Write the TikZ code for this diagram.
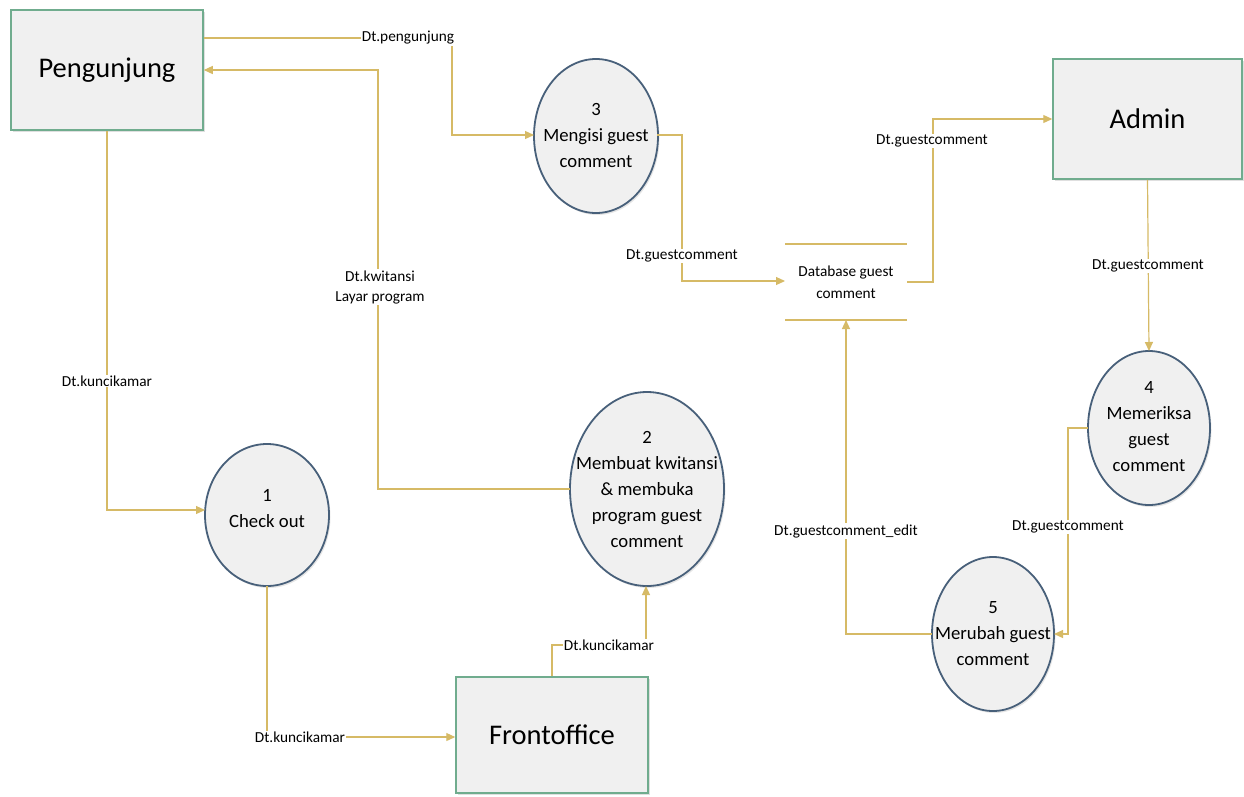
\documentclass[tikz,border=0pt]{standalone}
\usepackage{fontspec}
\setmainfont{Carlito}
\usetikzlibrary{shadows,arrows.meta}
\definecolor{flow}{RGB}{214,186,102}
\definecolor{boxline}{RGB}{112,172,142}
\definecolor{procline}{RGB}{72,96,122}
\definecolor{shapefill}{RGB}{240,240,240}
\tikzset{
  entity/.style={draw=boxline, line width=1.5pt, fill=shapefill, inner sep=0pt,
    drop shadow={opacity=0.25, shadow xshift=1.5pt, shadow yshift=-2pt},
    font=\fontsize{28.5}{32}\selectfont},
  procshape/.style={draw=procline, line width=1.8pt, fill=shapefill,
    drop shadow={opacity=0.2, shadow xshift=1.5pt, shadow yshift=-2pt}},
  ptext/.style={align=center, font=\fontsize{18.7}{26}\selectfont, inner sep=0pt},
  lbl/.style={fill=white, inner sep=1pt, align=center, font=\fontsize{15.3}{20}\selectfont},
  flowline/.style={draw=flow, line width=1.2pt, -{Triangle[length=9pt,width=8pt]}},
}
\begin{document}
\begin{tikzpicture}[x=1pt,y=-1pt]
\useasboundingbox (0,0) rectangle (1244,796);
\fill[white] (0,0) rectangle (1244,796);

% entities
\node[entity, minimum width=192pt, minimum height=120pt] (peng) at (107,70) {Pengunjung};
\node[entity, minimum width=189pt, minimum height=120pt] (admin) at (1147.5,119) {Admin};
\node[entity, minimum width=192pt, minimum height=116pt] (front) at (552,735) {Frontoffice};

% processes (ellipses)
\path[procshape] (596,136) ellipse [x radius=62, y radius=77];
\path[procshape] (267,515) ellipse [x radius=62, y radius=71];
\path[procshape] (647,489) ellipse [x radius=77, y radius=97];
\path[procshape] (1149,428) ellipse [x radius=61, y radius=77];
\path[procshape] (993,634) ellipse [x radius=61, y radius=77];

\node[ptext] (p3) at (596,135) {3\\Mengisi guest\\comment};
\node[ptext] (p1) at (267,509) {1\\Check out};
\node[ptext] (p2) at (647,489) {2\\Membuat kwitansi\\\& membuka\\program guest\\comment};
\node[ptext] (p4) at (1149,427) {4\\Memeriksa\\guest\\comment};
\node[ptext] (p5) at (993,634) {5\\Merubah guest\\comment};

% anchor coordinates on ellipses
\coordinate (p3w) at (534,135);
\coordinate (p3e) at (657,135);
\coordinate (p1w) at (205,510);
\coordinate (p1s) at (267,586);
\coordinate (p2w) at (570,489);
\coordinate (p2s) at (646,586);
\coordinate (p4n) at (1149,351);
\coordinate (p4w) at (1088,428);
\coordinate (p5e) at (1054,634);
\coordinate (p5w) at (932,634);

% data store
\draw[flow, line width=1.2pt] (785,244) -- (907,244);
\draw[flow, line width=1.2pt] (785,320) -- (907,320);
\node[align=center, font=\fontsize{15.3}{22}\selectfont, inner sep=0pt] (db) at (846,282) {Database guest\\comment};
\coordinate (dbw) at (785,281);
\coordinate (dbe) at (907,282);
\coordinate (dbs) at (846,320);

% flows
\path[flowline] (peng.east |- 0,38) -- (452,38) -- (452,135) -- (p3w);
\node[lbl] (l1) at (408,38) {Dt.pengunjung};

\path[flowline] (p2w) -- (378,489) -- (378,70) -- (peng.east |- 0,70);
\node[lbl] (l2) at (380,287) {Dt.kwitansi\\Layar program};

\path[flowline] (peng.south) -- (107,510) -- (p1w);
\node[lbl] (l3) at (107,381) {Dt.kuncikamar};

\path[flowline] (p1s) -- (267,737) -- (front.west |- 0,737);
\node[lbl] (l4) at (300,737) {Dt.kuncikamar};

\path[flowline] (front.north) -- (552,645) -- (646,645) -- (p2s);
\node[lbl] (l5) at (609,645) {Dt.kuncikamar};

\path[flowline] (p3e) -- (682,135) -- (682,281) -- (dbw);
\node[lbl] (l6) at (682,256) {Dt.guestcomment};

\path[flowline] (dbe) -- (933,282) -- (933,119) -- (admin.west);
\node[lbl] (l7) at (932,141) {Dt.guestcomment};

\path[flowline] (admin.south) -- (p4n);
\node[lbl] (l8) at (1148,266) {Dt.guestcomment};

\path[flowline] (p4w) -- (1068,428) -- (1068,634) -- (p5e);
\node[lbl] (l9) at (1068,527) {Dt.guestcomment};

\path[flowline] (p5w) -- (846,634) -- (dbs);
\node[lbl] (l10) at (846,531) {Dt.guestcomment\_edit};
\end{tikzpicture}
\end{document}
